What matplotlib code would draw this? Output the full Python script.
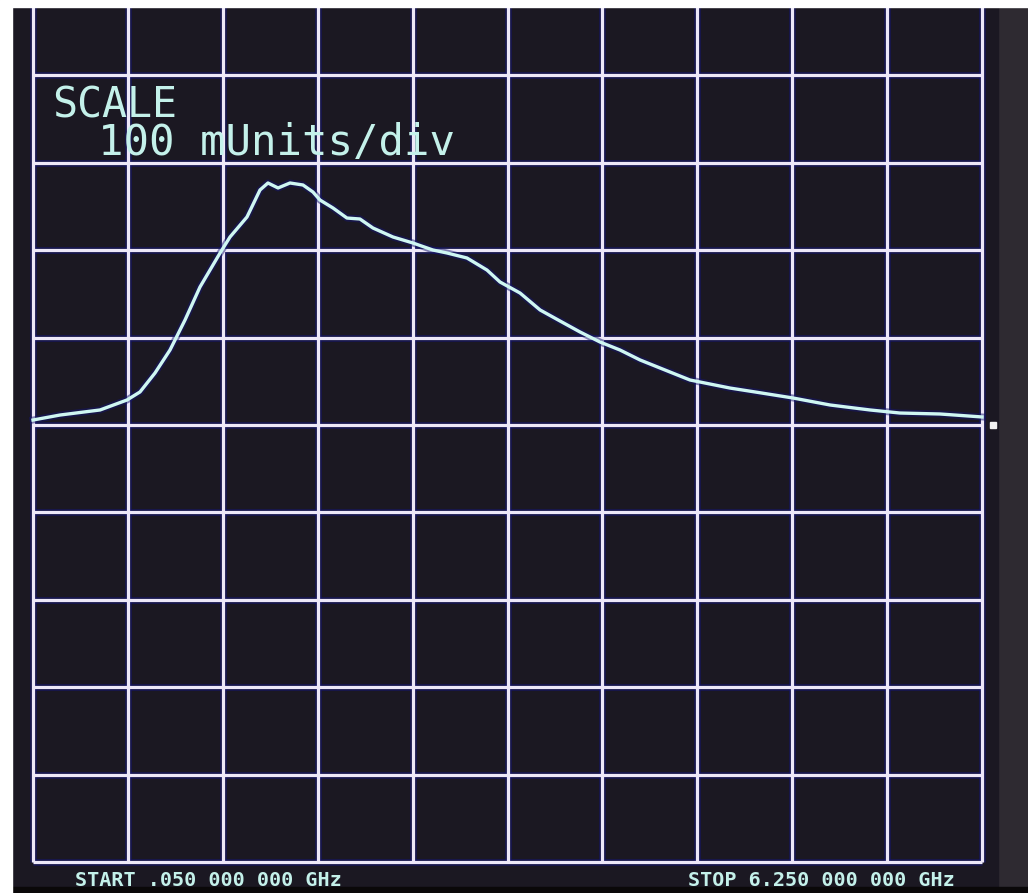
import numpy as np
import matplotlib.pyplot as plt
from matplotlib.patches import Rectangle

# sweep settings
F_START = 0.05   # GHz
F_STOP = 6.25    # GHz
SCALE = 100      # mUnits/div
N_XDIV = 10
N_YDIV = 10

# measured trace (GHz, mUnits relative to reference line)
freq = [0.050, 0.226, 0.488, 0.664, 0.749, 0.847, 0.945, 1.043, 1.141, 1.272,
        1.337, 1.448, 1.533, 1.585, 1.651, 1.729, 1.814, 1.879, 1.925, 2.010,
        2.101, 2.186, 2.271, 2.402, 2.533, 2.663, 2.755, 2.885, 3.016, 3.101,
        3.232, 3.363, 3.493, 3.624, 3.754, 3.885, 4.016, 4.212, 4.342, 4.603,
        4.767, 5.015, 5.257, 5.518, 5.714, 5.975, 6.250]
level = [5.7, 11.4, 17.2, 28.6, 37.8, 59.5, 85.8, 120.1, 157.9, 196.8,
         215.1, 238.0, 268.9, 276.9, 271.2, 276.9, 274.6, 266.6, 257.4, 248.3,
         236.8, 235.7, 225.4, 215.1, 208.2, 200.2, 196.8, 191.1, 177.3, 163.6,
         151.0, 131.6, 119.0, 106.4, 95.0, 85.8, 74.4, 60.6, 51.5, 42.3,
         37.8, 30.9, 22.9, 17.2, 13.7, 12.6, 9.2]

scale_lines = ["SCALE", "100 mUnits/div"]
start_label = "START .050 000 000 GHz"
stop_label = "STOP 6.250 000 000 GHz"

W, H = 1028, 893
x0_px, xdiv_px = 33, 94.9     # left graticule line, pixels per division
y0_px, ydiv_px = 425, 87.4    # reference line, pixels per division

fpd = (F_STOP - F_START) / N_XDIV
xlim = (F_START - x0_px / xdiv_px * fpd, F_START + (W - x0_px) / xdiv_px * fpd)
ylim = (-(H - y0_px) / ydiv_px * SCALE, y0_px / ydiv_px * SCALE)

GRID = "#ede8f8"
HALO = "#15156e"
TRACE = "#cff7f2"
TEXT = "#c4f1ea"

fig = plt.figure(figsize=(W / 100, H / 100), dpi=100, facecolor="#0c0a0d")
# photo surround: grey bezel right, black strip bottom, white margin top/left
fig.add_artist(Rectangle((0, 0), 1, 1, transform=fig.transFigure, color="#2e2a31", zorder=-5))
fig.add_artist(Rectangle((12 / W, 5 / H), 986 / W, (H - 12) / H, transform=fig.transFigure,
                         color="#1b1822", zorder=-4))
fig.add_artist(Rectangle((0, 0), 1, 6 / H, transform=fig.transFigure, color="#0a0809", zorder=-3))
fig.add_artist(Rectangle((0, 0), 12 / W, 1, transform=fig.transFigure, color="white", zorder=10))
fig.add_artist(Rectangle((0, 1 - 7 / H), 1, 7 / H, transform=fig.transFigure, color="white", zorder=10))

ax = fig.add_axes([0, 0, 1, 1])
ax.set_xlim(xlim)
ax.set_ylim(ylim)
ax.axis("off")
ax.patch.set_visible(False)

# graticule
xs = [F_START + i * fpd for i in range(N_XDIV + 1)]
ys = [(j - N_YDIV // 2) * SCALE for j in range(N_YDIV + 1)]
for x in xs:
    ax.plot([x, x], [ys[0], ys[-1]], color=HALO, lw=5, alpha=0.55, solid_capstyle="butt", zorder=1)
    ax.plot([x, x], [ys[0], ys[-1]], color=GRID, lw=2.3, solid_capstyle="butt", zorder=2)
for y in ys:
    ax.plot([xs[0], xs[-1]], [y, y], color=HALO, lw=5, alpha=0.55, solid_capstyle="butt", zorder=1)
    ax.plot([xs[0], xs[-1]], [y, y], color=GRID, lw=2.3, solid_capstyle="butt", zorder=2)

# trace
ax.plot(freq, level, color=HALO, lw=5, alpha=0.5, zorder=3, solid_joinstyle="round")
ax.plot(freq, level, color=TRACE, lw=2.4, zorder=4, solid_joinstyle="round")

# reference level marker
ax.plot([F_STOP + 0.07], [0], marker="s", ms=5, color="#f2f2f2", zorder=5)

# annotations
ax.text(52 / W, 1 - 118 / H, scale_lines[0], transform=ax.transAxes, color=TEXT,
        family="DejaVu Sans Mono", fontsize=30, va="baseline", ha="left")
ax.text(98 / W, 1 - 155 / H, scale_lines[1], transform=ax.transAxes, color=TEXT,
        family="DejaVu Sans Mono", fontsize=30.5, va="baseline", ha="left")
ax.text(75 / W, 1 - 886 / H, start_label, transform=ax.transAxes, color=TEXT,
        family="DejaVu Sans Mono", fontsize=14.5, fontweight="bold", va="baseline", ha="left")
ax.text(688 / W, 1 - 886 / H, stop_label, transform=ax.transAxes, color=TEXT,
        family="DejaVu Sans Mono", fontsize=14.5, fontweight="bold", va="baseline", ha="left")

fig.savefig("out.png", dpi=100, facecolor=fig.get_facecolor())
